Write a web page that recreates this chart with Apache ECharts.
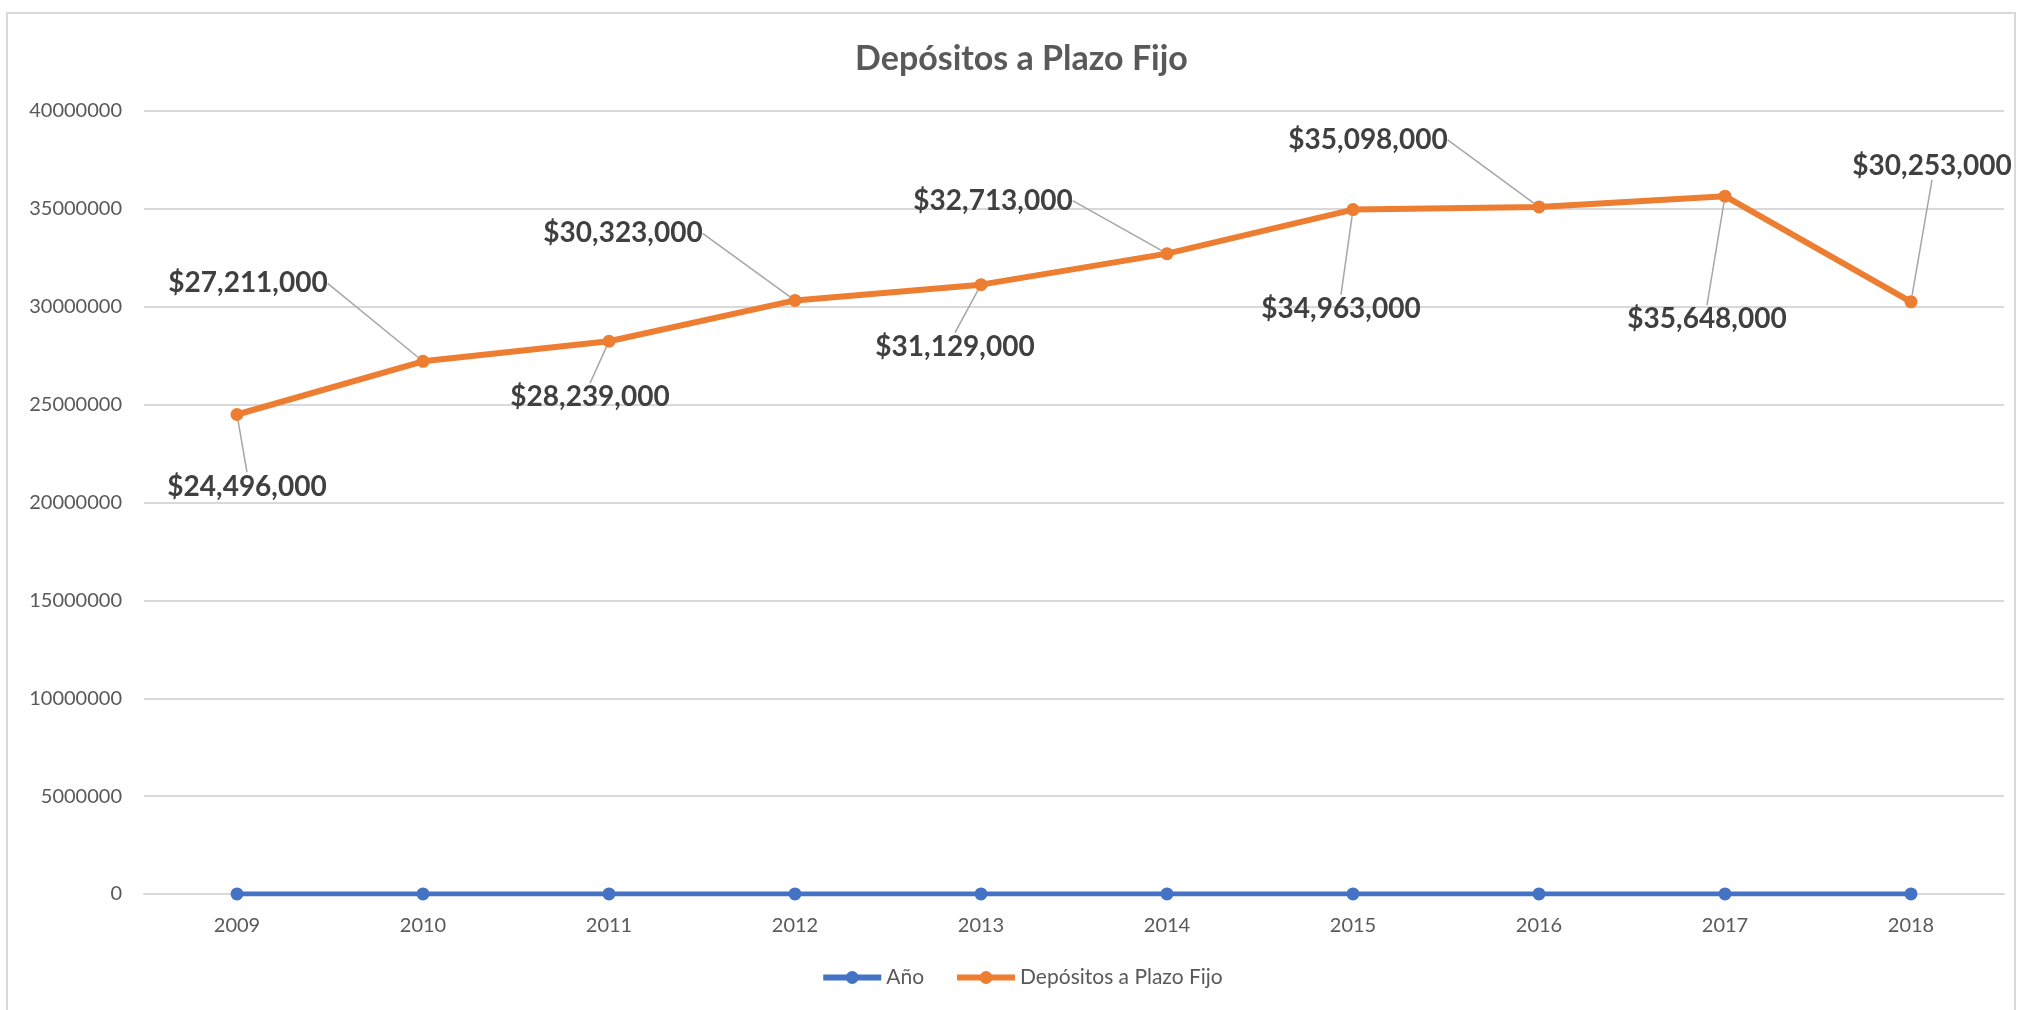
<!DOCTYPE html>
<html>
<head>
<meta charset="utf-8">
<script src="https://cdn.jsdelivr.net/npm/echarts@6/dist/echarts.min.js"></script>
<style>
  html, body { margin: 0; padding: 0; background: #fff; }
  #frame { position: absolute; left: 6px; top: 12px; width: 2010px; height: 1010px; border: 2px solid #d9d9d9; box-sizing: border-box; }
  #chart { position: absolute; left: 0; top: 0; width: 2043px; height: 1010px; }
</style>
</head>
<body>
<div id="frame"></div>
<div id="chart"></div>
<script>
// datos
const years = ["2009", "2010", "2011", "2012", "2013", "2014", "2015", "2016", "2017", "2018"];
const anio = [2009, 2010, 2011, 2012, 2013, 2014, 2015, 2016, 2017, 2018];
const depositos = [24496000, 27211000, 28239000, 30323000, 31129000, 32713000, 34963000, 35098000, 35648000, 30253000];
const yTicks = { min: 0, max: 40000000, interval: 5000000 };

// desplazamiento de cada etiqueta respecto al punto (px)
const labelOffsets = [
  [10, 72], [-175, -78], [-19, 56], [-172, -67], [-26, 62],
  [-174, -53], [-12, 99], [-171, -67], [-18, 123], [21, -136]
];

const FONT = "Lato, 'Open Sans', sans-serif";

function fmtMoney(v) {
  return "$" + v.toLocaleString("en-US");
}

const chart = echarts.init(document.getElementById("chart"));
chart.setOption({
  animation: false,
  title: {
    text: "Depósitos a Plazo Fijo",
    left: "center",
    top: 37,
    textStyle: { fontFamily: FONT, fontSize: 34, fontWeight: "bold", color: "#595959" }
  },
  legend: {
    bottom: 17,
    left: "center",
    itemWidth: 58,
    itemHeight: 16,
    itemGap: 30,
    textStyle: { fontFamily: FONT, fontSize: 21, color: "#595959" },
    lineStyle: { width: 6 },
    data: ["Año", "Depósitos a Plazo Fijo"]
  },
  grid: { left: 144, right: 39, top: 111, bottom: 116 },
  xAxis: {
    type: "category",
    data: years,
    boundaryGap: true,
    axisLine: { lineStyle: { color: "#d9d9d9", width: 2 } },
    axisTick: { show: false },
    axisLabel: { fontFamily: FONT, fontSize: 20, color: "#595959", margin: 22 }
  },
  yAxis: {
    type: "value",
    min: yTicks.min,
    max: yTicks.max,
    interval: yTicks.interval,
    axisLine: { show: false },
    axisTick: { show: false },
    splitLine: { lineStyle: { color: "#d9d9d9", width: 2 } },
    axisLabel: {
      fontFamily: FONT, fontSize: 20, color: "#595959", margin: 22,
      formatter: (v) => String(v)
    }
  },
  series: [
    {
      name: "Año",
      type: "line",
      data: anio,
      symbol: "circle",
      symbolSize: 13,
      itemStyle: { color: "#4472c4" },
      lineStyle: { color: "#4472c4", width: 5 }
    },
    {
      name: "Depósitos a Plazo Fijo",
      type: "line",
      data: depositos,
      symbol: "circle",
      symbolSize: 13,
      z: 3,
      itemStyle: { color: "#ed7d31" },
      lineStyle: { color: "#ed7d31", width: 6 },
      label: {
        show: true,
        position: "inside",
        fontFamily: FONT,
        fontSize: 28,
        fontWeight: "bold",
        color: "#404040",
        formatter: (p) => fmtMoney(p.value)
      },
      labelLine: { show: true, lineStyle: { color: "#a6a6a6", width: 1.5 } },
      labelLayout: (p) => ({ dx: labelOffsets[p.dataIndex][0], dy: labelOffsets[p.dataIndex][1] })
    }
  ]
});
</script>
</body>
</html>
